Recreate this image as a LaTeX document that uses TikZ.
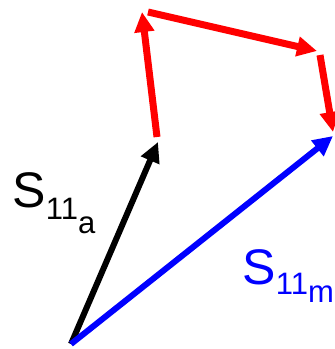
\documentclass[tikz,border=0pt]{standalone}
\usepackage{fontspec}
\setmainfont{Liberation Sans}
\usetikzlibrary{arrows.meta}
\definecolor{vred}{RGB}{255,0,0}
\definecolor{vblue}{RGB}{0,0,255}
\tikzset{
  vec/.style={line width=6.5pt, line cap=butt, -{Triangle[length=20pt,width=19pt]}},
  lbl/.style={anchor=base west, inner sep=0pt, outer sep=0pt}
}
\begin{document}
\begin{tikzpicture}[x=1pt,y=-1pt]
\useasboundingbox (0,0) rectangle (335,349);
\coordinate (O) at (71,344);
\coordinate (A) at (158,142);
\coordinate (M) at (333,136);
\coordinate (R1s) at (157,137);
\coordinate (R1e) at (142,12);
\coordinate (R2s) at (148,12);
\coordinate (R2e) at (317,51);
\coordinate (R3s) at (320,55);
\coordinate (R3e) at (333,132);
\draw[vec, line width=6pt, black] (O) -- (A);
\draw[vec, line width=6pt, vblue] (O) -- (M);
\draw[vec, line width=7pt, vred] (R1s) -- (R1e);
\draw[vec, line width=7pt, vred] (R2s) -- (R2e);
\draw[vec, line width=7pt, vred] (R3s) -- (R3e);
\node[lbl, text=black] (la) at (12.5,207.5) {\fontsize{50}{50}\selectfont S\raisebox{-12pt}{\fontsize{31}{31}\selectfont 11\raisebox{-14pt}{a}}};
\node[lbl, text=vblue] (lm) at (242.5,284.5) {\fontsize{50}{50}\selectfont S\raisebox{-10pt}{\fontsize{31}{31}\selectfont 11\raisebox{-8pt}{m}}};
\end{tikzpicture}
\end{document}
